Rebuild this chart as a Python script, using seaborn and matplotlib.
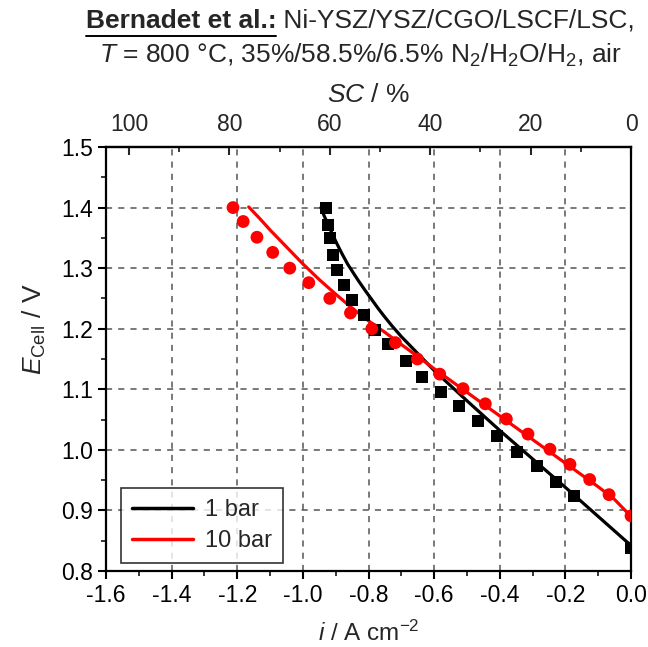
import numpy as np
import pandas as pd
import seaborn as sns
import matplotlib.pyplot as plt
from matplotlib.lines import Line2D
import matplotlib.ticker as ticker

sns.set_style('ticks')
plt.rcParams['font.family'] = ['Liberation Sans', 'DejaVu Sans']
plt.rcParams['mathtext.fontset'] = 'custom'
plt.rcParams['mathtext.rm'] = 'Liberation Sans'
plt.rcParams['mathtext.it'] = 'Liberation Sans:italic'
plt.rcParams['mathtext.bf'] = 'Liberation Sans:bold'

# Datos medidos (puntos)
i_1bar = [-0.929, -0.924, -0.918, -0.909, -0.896, -0.874, -0.851, -0.815, -0.780, -0.741,
          -0.687, -0.636, -0.580, -0.525, -0.466, -0.408, -0.348, -0.287, -0.229, -0.174, 0.0]
E_1bar = [1.399, 1.371, 1.349, 1.322, 1.297, 1.272, 1.247, 1.222, 1.198, 1.175,
          1.147, 1.121, 1.096, 1.072, 1.047, 1.023, 0.997, 0.973, 0.947, 0.923, 0.838]
i_10bar = [-1.213, -1.182, -1.140, -1.092, -1.040, -0.982, -0.918, -0.855, -0.790, -0.718,
           -0.651, -0.583, -0.512, -0.444, -0.380, -0.314, -0.247, -0.186, -0.126, -0.067, 0.0]
E_10bar = [1.400, 1.377, 1.351, 1.326, 1.300, 1.276, 1.250, 1.226, 1.200, 1.177,
           1.150, 1.125, 1.101, 1.076, 1.051, 1.026, 1.001, 0.976, 0.951, 0.926, 0.891]

# Modelo (lineas)
i_mod_1bar = [-0.945, -0.935, -0.922, -0.911, -0.896, -0.881, -0.864, -0.845, -0.828, -0.810,
              -0.790, -0.770, -0.750, -0.729, -0.700, -0.650, -0.60, -0.50, -0.40, -0.30,
              -0.20, -0.10, 0.0]
E_mod_1bar = [1.400, 1.386, 1.371, 1.357, 1.340, 1.324, 1.307, 1.291, 1.277, 1.263,
              1.248, 1.233, 1.219, 1.205, 1.187, 1.159, 1.131, 1.081, 1.032, 0.985,
              0.938, 0.890, 0.842]
i_mod_10bar = [-1.165, -1.13, -1.10, -1.05, -1.00, -0.95, -0.90, -0.85, -0.80, -0.75,
               -0.70, -0.65, -0.60, -0.50, -0.40, -0.30, -0.20, -0.10, -0.05, 0.0]
E_mod_10bar = [1.401, 1.381, 1.363, 1.335, 1.307, 1.281, 1.257, 1.234, 1.213, 1.194,
               1.174, 1.154, 1.134, 1.095, 1.056, 1.017, 0.978, 0.939, 0.918, 0.890]

sc_ticks = [100, 80, 60, 40, 20, 0]

puntos = pd.concat([
    pd.DataFrame({'i': i_1bar, 'E': E_1bar, 'p': '1 bar'}),
    pd.DataFrame({'i': i_10bar, 'E': E_10bar, 'p': '10 bar'}),
])
modelo = pd.concat([
    pd.DataFrame({'i': i_mod_1bar, 'E': E_mod_1bar, 'p': '1 bar'}),
    pd.DataFrame({'i': i_mod_10bar, 'E': E_mod_10bar, 'p': '10 bar'}),
])
colores = {'1 bar': 'black', '10 bar': '#ff0000'}

fig = plt.figure(figsize=(6.48, 6.47), dpi=100)
ax = fig.add_axes([0.1636, 0.1175, 0.8102, 0.6553])

sns.lineplot(data=modelo, x='i', y='E', hue='p', palette=colores, lw=2.3, ax=ax,
             sort=False, estimator=None, zorder=3, legend=False)
sns.scatterplot(data=puntos[puntos['p'] == '1 bar'], x='i', y='E', color='black', marker='s',
                s=75, edgecolor='none', ax=ax, legend=False, zorder=4)
sns.scatterplot(data=puntos[puntos['p'] == '10 bar'], x='i', y='E', color='#ff0000', marker='o',
                s=85, edgecolor='none', ax=ax, legend=False, zorder=4)

ax.set_xlim(-1.6, 0.0)
ax.set_ylim(0.8, 1.5)
ax.xaxis.set_major_locator(ticker.MultipleLocator(0.2))
ax.xaxis.set_minor_locator(ticker.MultipleLocator(0.1))
ax.yaxis.set_major_locator(ticker.MultipleLocator(0.1))
ax.yaxis.set_minor_locator(ticker.MultipleLocator(0.05))
ax.xaxis.set_major_formatter(ticker.FormatStrFormatter('%.1f'))
ax.yaxis.set_major_formatter(ticker.FormatStrFormatter('%.1f'))
ax.grid(True, which='major', linestyle=(0, (4, 4)), color='#555555', lw=1.1)
ax.tick_params(which='major', direction='out', length=6, width=1.5, labelsize=16.5, colors='black')
ax.tick_params(which='minor', direction='out', length=3.5, width=1.3)
for s in ax.spines.values():
    s.set_linewidth(1.6)
    s.set_color('black')

ax.set_xlabel('$i$ / A cm$^{-2}$', fontsize=17.5, labelpad=10)
ax.set_ylabel('$E_{\\mathrm{Cell}}$ / V', fontsize=19)
ax.yaxis.set_label_coords(-0.11, 0.57)

# Eje superior SC
sec = ax.secondary_xaxis('top', functions=(lambda x: -x / 1.53 * 100, lambda s: -s * 1.53 / 100))
sec.xaxis.set_major_locator(ticker.FixedLocator(sc_ticks))
sec.xaxis.set_minor_locator(ticker.FixedLocator([90, 70, 50, 30, 10]))
sec.xaxis.set_major_formatter(ticker.FuncFormatter(lambda v, p: f'{abs(v):.0f}'))
sec.tick_params(which='major', direction='in', length=6, width=1.5, labelsize=16.5, pad=8)
sec.tick_params(which='minor', direction='in', length=3.5, width=1.3)
sec.set_xlabel('$SC$ / %', fontsize=19, labelpad=8)
sec.spines['top'].set_linewidth(1.6)

h = [Line2D([], [], color='black', lw=2.5), Line2D([], [], color='#ff0000', lw=2.5)]
leg = ax.legend(h, ['1 bar', '10 bar'], loc='lower left', bbox_to_anchor=(0.02, 0.008),
                fontsize=17, frameon=True, fancybox=False, edgecolor='black',
                handlelength=2.6, borderpad=0.45, labelspacing=0.4, handletextpad=0.5,
                borderaxespad=0.2)
leg.get_frame().set_linewidth(1.2)

# Titulo
yc = 0.968
t1a = fig.text(0.0, yc, 'Bernadet et al.:', fontsize=19, fontweight='bold', va='center')
t1b = fig.text(0.0, yc, ' Ni-YSZ/YSZ/CGO/LSCF/LSC,', fontsize=19, va='center')
fig.text(0.556, 0.915, '$T$ = 800 °C, 35%/58.5%/6.5% N$_2$/H$_2$O/H$_2$, air', fontsize=19,
         ha='center', va='center')
fig.canvas.draw()
r = fig.canvas.get_renderer()
wa = t1a.get_window_extent(r).width / fig.bbox.width
wb = t1b.get_window_extent(r).width / fig.bbox.width
x0 = 0.556 - (wa + wb) / 2
t1a.set_x(x0)
t1b.set_x(x0 + wa)
fig.add_artist(Line2D([x0, x0 + wa], [0.945, 0.945], color='black', lw=1.4, transform=fig.transFigure))

fig.savefig('out.png', dpi=100)
